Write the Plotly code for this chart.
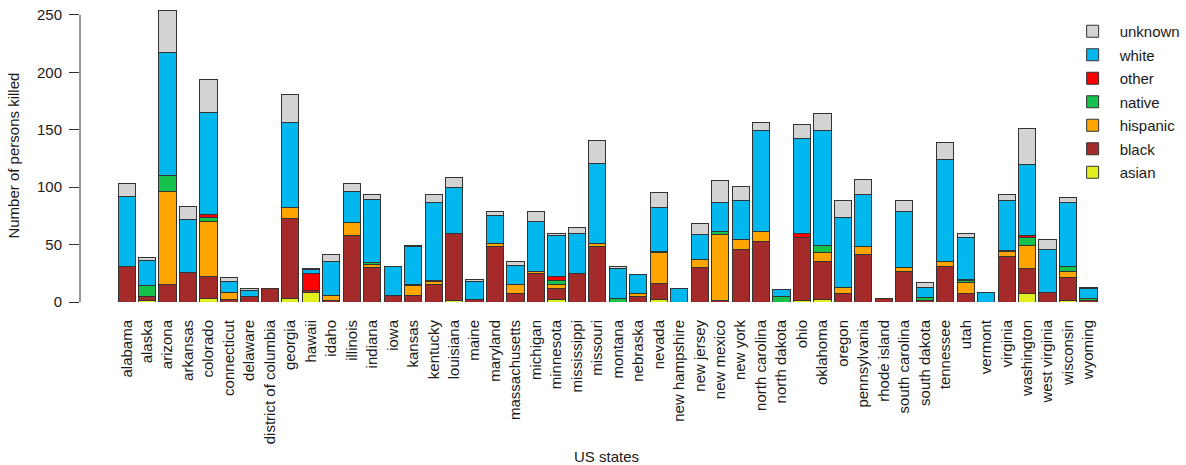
import plotly.graph_objects as go

states = ["alabama", "alaska", "arizona", "arkansas", "colorado", "connecticut", "delaware",
          "district of columbia", "georgia", "hawaii", "idaho", "illinois", "indiana", "iowa",
          "kansas", "kentucky", "louisiana", "maine", "maryland", "massachusetts", "michigan",
          "minnesota", "mississippi", "missouri", "montana", "nebraska", "nevada",
          "new hampshire", "new jersey", "new mexico", "new york", "north carolina",
          "north dakota", "ohio", "oklahoma", "oregon", "pennsylvania", "rhode island",
          "south carolina", "south dakota", "tennessee", "utah", "vermont", "virginia",
          "washington", "west virginia", "wisconsin", "wyoming"]

asian    = [0, 1, 0, 0, 3, 0, 0, 0, 3, 8, 0, 0, 0, 0, 0, 0, 1, 0, 0, 0, 0, 2, 0, 0,
            0, 0, 2, 0, 0, 0, 0, 0, 0, 1, 2, 0, 0, 0, 0, 0, 0, 0, 0, 0, 7, 0, 1, 0]
black    = [31, 4, 15, 26, 19, 2, 5, 12, 70, 2, 1, 58, 30, 6, 6, 15, 59, 2, 48, 7, 25, 10, 25, 48,
            0, 5, 14, 0, 30, 1, 46, 53, 0, 55, 33, 7, 41, 3, 27, 1, 31, 7, 0, 40, 22, 8, 20, 1]
hispanic = [0, 0, 81, 0, 48, 6, 0, 0, 9, 0, 5, 11, 3, 0, 8, 3, 0, 0, 3, 8, 2, 3, 0, 3,
            0, 2, 27, 0, 7, 58, 8, 8, 0, 0, 8, 6, 7, 0, 3, 0, 4, 10, 0, 4, 20, 0, 6, 0]
native   = [0, 9, 14, 0, 4, 0, 0, 0, 0, 0, 0, 0, 1, 0, 1, 1, 0, 0, 0, 0, 0, 4, 0, 0,
            3, 0, 1, 0, 0, 2, 0, 0, 5, 0, 6, 0, 0, 0, 0, 3, 0, 2, 0, 1, 7, 0, 4, 2]
other    = [0, 0, 0, 0, 2, 0, 0, 0, 0, 15, 0, 0, 0, 0, 0, 0, 0, 0, 0, 0, 0, 3, 0, 0,
            0, 0, 0, 0, 0, 0, 0, 0, 0, 4, 0, 0, 0, 0, 0, 0, 0, 1, 0, 0, 2, 0, 0, 0]
white    = [61, 22, 107, 46, 89, 10, 5, 0, 74, 3, 29, 27, 55, 25, 33, 68, 40, 16, 24, 17, 43, 36, 35, 70,
            26, 17, 38, 12, 22, 26, 34, 88, 6, 82, 100, 61, 46, 0, 49, 9, 89, 36, 8, 43, 62, 38, 56, 9]
unknown  = [11, 3, 37, 11, 29, 3, 2, 0, 25, 1, 6, 7, 5, 0, 1, 7, 8, 2, 4, 3, 9, 2, 5, 20,
            2, 0, 13, 0, 9, 19, 13, 7, 0, 13, 15, 14, 13, 0, 9, 4, 15, 4, 0, 6, 31, 8, 4, 1]

y_ticks = [0, 50, 100, 150, 200, 250]

series = [
    ("asian", asian, "#E3EE1F"),
    ("black", black, "#A52A2A"),
    ("hispanic", hispanic, "#FFA500"),
    ("native", native, "#14C24C"),
    ("other", other, "#FF0000"),
    ("white", white, "#00B8EE"),
    ("unknown", unknown, "#D3D3D3"),
]

fig = go.Figure()
n = len(series)
for i, (name, vals, col) in enumerate(series):
    fig.add_trace(go.Bar(
        x=states, y=vals, name=name, legendgroup=name, legendrank=n - i,
        marker=dict(color=col, line=dict(color="#333333", width=1)),
    ))

W, H = 1186, 465
L, R, T, B = 80, 16, 0, 163.3
pw = W - L - R
ph = H - T - B


def px_x(p):
    return (p - L) / pw


def px_y(p):
    return 1 - (p - T) / ph


fig.update_layout(
    width=W, height=H, autosize=False,
    barmode="stack", bargap=0.16,
    plot_bgcolor="white", paper_bgcolor="white",
    margin=dict(l=L, r=R, t=T, b=B, pad=0),
    font=dict(family="Liberation Sans, Arial, sans-serif", size=15, color="#1a1a1a"),
    legend=dict(
        x=px_x(1072), y=px_y(15), xanchor="left", yanchor="top",
        traceorder="grouped", tracegroupgap=1, itemwidth=44,
        font=dict(size=15), bgcolor="rgba(0,0,0,0)",
    ),
    xaxis=dict(
        type="category", range=[-2.28, 50.64],
        showline=False, showgrid=False, zeroline=False,
        ticks="", tickangle=-90, tickfont=dict(size=15),
        ticklabelstandoff=14,
    ),
    yaxis=dict(
        range=[0, 263], tickvals=y_ticks,
        showline=False,
        ticks="outside", ticklen=10, tickcolor="#333333",
        showgrid=False, zeroline=False, tickfont=dict(size=15),
        ticklabelstandoff=4,
    ),
    shapes=[
        dict(type="line", xref="paper", yref="y", x0=0, x1=0,
             y0=y_ticks[0], y1=y_ticks[-1], line=dict(color="#333333", width=1)),
    ],
    annotations=[
        dict(text="Number of persons killed", xref="paper", yref="paper",
             x=px_x(13), y=px_y(155), xanchor="center", yanchor="middle",
             textangle=-90, showarrow=False, font=dict(size=15)),
        dict(text="US states", xref="paper", yref="paper",
             x=px_x(610), y=px_y(456), xanchor="center", yanchor="middle",
             showarrow=False, font=dict(size=15)),
    ],
)

fig.write_html("out.html", config={"displayModeBar": False},
               post_script="document.body.style.margin='0px';")
